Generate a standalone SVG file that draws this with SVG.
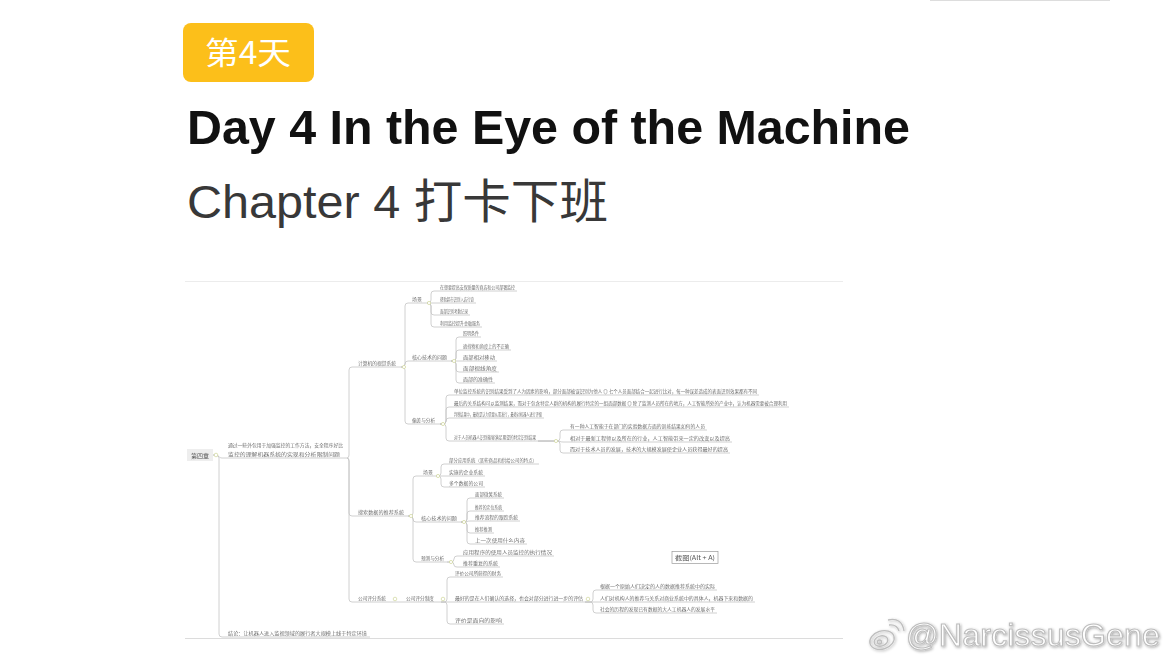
<svg xmlns="http://www.w3.org/2000/svg" width="1170" height="660" viewBox="0 0 1170 660">
  <defs>
    <style>
      .badge-text { font-family: "Noto Sans CJK SC", "Liberation Sans", sans-serif; font-size: 31px; fill: #ffffff; }
      .title { font-family: "Liberation Sans", "Noto Sans CJK SC", sans-serif; font-size: 48px; font-weight: bold; fill: #111111; }
      .subtitle { font-family: "Liberation Sans", "Noto Sans CJK SC", sans-serif; font-size: 47px; fill: #383838; }
      .mm { font-family: "Noto Sans CJK SC", "Liberation Sans", sans-serif; font-size: 4.8px; fill: #6e6e6e; }
      .mm-root { font-family: "Noto Sans CJK SC", "Liberation Sans", sans-serif; font-size: 6px; fill: #555555; }
      .link { fill: none; stroke: #c4c4c4; stroke-width: 0.8; }
      .knob { fill: #ffffff; stroke: #cfd59a; stroke-width: 0.7; }
      .wm { font-family: "Liberation Sans", sans-serif; font-size: 32px; fill: #ffffff; stroke: #bdbdbd; stroke-width: 1.1; }
      .wm-line { fill: none; stroke: #bdbdbd; stroke-width: 1.3; }
    </style>
    <filter id="soft" x="-5%" y="-5%" width="110%" height="110%">
      <feGaussianBlur stdDeviation="0.4"/>
    </filter>
    <filter id="wmShadow" x="-10%" y="-30%" width="120%" height="160%">
      <feGaussianBlur in="SourceAlpha" stdDeviation="1.6" result="b"/>
      <feOffset dx="0.5" dy="1" result="o"/>
      <feComponentTransfer in="o" result="s"><feFuncA type="linear" slope="0.35"/></feComponentTransfer>
      <feMerge><feMergeNode in="s"/><feMergeNode in="SourceGraphic"/></feMerge>
    </filter>
  </defs>

  <rect x="0" y="0" width="1170" height="660" fill="#ffffff"/>
  <line x1="930" y1="0.5" x2="1110" y2="0.5" stroke="#dddddd" stroke-width="1"/>

  <!-- heading -->
  <g id="day-badge">
    <rect x="183" y="23" width="131" height="59" rx="8" fill="#fcbf1a"/>
    <text class="badge-text" x="205" y="64" textLength="86" lengthAdjust="spacingAndGlyphs">第4天</text>
  </g>
  <g id="title">
    <text class="title" x="187" y="144" textLength="723" lengthAdjust="spacingAndGlyphs">Day 4 In the Eye of the Machine</text>
  </g>
  <g id="subtitle">
    <text class="subtitle" x="187" y="218" textLength="421" lengthAdjust="spacingAndGlyphs">Chapter 4 打卡下班</text>
  </g>

  <!-- mind map -->
  <g id="mindmap" filter="url(#soft)">
    <line x1="185" y1="281.5" x2="843" y2="281.5" stroke="#ececec" stroke-width="1"/>
    <line x1="185" y1="638.5" x2="843" y2="638.5" stroke="#dcdcdc" stroke-width="1.2"/>

    <g id="connectors">
      <!-- root -->
      <path class="link" d="M213,455 C219,455 219,458 222,458 H347"/>
      <path class="link" d="M213,455 H216 Q219,455 219,458 V634 Q219,637 222,637 H370"/>
      <!-- level 1 -->
      <path class="link" d="M347,458 Q349,458 349,455 V370 Q349,367 352,367 H401"/>
      <path class="link" d="M347,458 Q349,458 349,461 V513 Q349,516 352,516 H408"/>
      <path class="link" d="M347,458 Q349,458 349,461 V599 Q349,602 352,602 H441"/>
      <!-- vision system -->
      <path class="link" d="M401,367 H402 Q405,367 405,364 V306 Q405,303 408,303 H427"/>
      <path class="link" d="M401,367 H402 Q405,367 405,364 Q405,361 408,361 H451"/>
      <path class="link" d="M401,367 H402 Q405,367 405,370 V421 Q405,424 408,424 H440"/>
      <!-- vision: scenes -->
      <path class="link" d="M427,303 H428 Q431,303 431,300 V294 Q431,291 434,291 H517"/>
      <path class="link" d="M427,303 H476"/>
      <path class="link" d="M427,303 H428 Q431,303 431,306 V312 Q431,315 434,315 H470"/>
      <path class="link" d="M427,303 H428 Q431,303 431,306 V324 Q431,327 434,327 H482"/>
      <!-- vision: core problems -->
      <path class="link" d="M451,361 H453 Q456,361 456,358 V340 Q456,337 459,337 H481"/>
      <path class="link" d="M451,361 H453 Q456,361 456,358 V353 Q456,350 459,350 H511"/>
      <path class="link" d="M451,361 H497"/>
      <path class="link" d="M451,361 H453 Q456,361 456,364 V369 Q456,372 459,372 H499"/>
      <path class="link" d="M451,361 H453 Q456,361 456,364 V380 Q456,383 459,383 H495"/>
      <!-- vision: bias and analysis -->
      <path class="link" d="M440,424 H443 Q446,424 446,421 V398 Q446,395 449,395 H759"/>
      <path class="link" d="M440,424 H443 Q446,424 446,421 V410 Q446,407 449,407 H789"/>
      <path class="link" d="M440,424 H443 Q446,424 446,421 Q446,418 449,418 H544"/>
      <path class="link" d="M440,424 H443 Q446,424 446,427 V438 Q446,441 449,441 H538"/>
      <path class="link" d="M538,441 H557 Q560,441 560,438 V433 Q560,430 563,430 H707"/>
      <path class="link" d="M538,441 H557 C560,441 560,442 563,442 H732"/>
      <path class="link" d="M538,441 H557 Q560,441 560,444 V450 Q560,453 563,453 H730"/>
      <!-- recommendation system -->
      <path class="link" d="M408,516 H410 Q413,516 413,513 V479 Q413,476 416,476 H436"/>
      <path class="link" d="M408,516 H410 Q413,516 413,519 Q413,522 416,522 H461"/>
      <path class="link" d="M408,516 H410 Q413,516 413,519 V559 Q413,562 416,562 H447"/>
      <path class="link" d="M436,476 H438 Q441,476 441,473 V467 Q441,464 444,464 H539"/>
      <path class="link" d="M436,476 H485"/>
      <path class="link" d="M436,476 H438 Q441,476 441,479 V484 Q441,487 444,487 H485"/>
      <path class="link" d="M461,522 H464 Q467,522 467,519 V501 Q467,498 470,498 H504"/>
      <path class="link" d="M461,522 H464 Q467,522 467,519 V514 Q467,511 470,511 H504"/>
      <path class="link" d="M461,522 H464 C467,522 467,521 470,521 H520"/>
      <path class="link" d="M461,522 H464 Q467,522 467,525 V530 Q467,533 470,533 H494"/>
      <path class="link" d="M461,522 H464 Q467,522 467,525 V541 Q467,544 470,544 H527"/>
      <path class="link" d="M447,562 H451 Q454,562 454,559 Q454,556 457,556 H554"/>
      <path class="link" d="M447,562 H451 Q454,562 454,565 Q454,567 457,567 H500"/>
      <!-- company rating -->
      <path class="link" d="M441,602 H444 Q447,602 447,599 V580 Q447,577 450,577 H503"/>
      <path class="link" d="M441,602 H585"/>
      <path class="link" d="M441,602 H444 Q447,602 447,605 V621 Q447,624 450,624 H504"/>
      <path class="link" d="M585,602 H590 Q593,602 593,599 V593 Q593,590 596,590 H717"/>
      <path class="link" d="M585,602 H755"/>
      <path class="link" d="M585,602 H590 Q593,602 593,605 V610 Q593,613 596,613 H717"/>
      <!-- collapse knobs -->
      <circle class="knob" cx="216" cy="455" r="1.8"/>
      <circle class="knob" cx="404" cy="367" r="1.6"/>
      <circle class="knob" cx="429" cy="303" r="1.6"/>
      <circle class="knob" cx="454" cy="361" r="1.6"/>
      <circle class="knob" cx="443" cy="424" r="1.6"/>
      <circle class="knob" cx="556" cy="441" r="1.6"/>
      <circle class="knob" cx="411" cy="516" r="1.6"/>
      <circle class="knob" cx="438" cy="476" r="1.6"/>
      <circle class="knob" cx="464" cy="522" r="1.6"/>
      <circle class="knob" cx="451" cy="562" r="1.6"/>
      <circle class="knob" cx="395" cy="599" r="1.8"/>
      <circle class="knob" cx="443" cy="599" r="1.8"/>
      <circle class="knob" cx="588" cy="599" r="1.8"/>
    </g>

    <g id="n-root">
      <rect x="187" y="449" width="26" height="12" fill="#eeeeee"/>
      <text class="mm-root" x="200" y="457.5" text-anchor="middle">第四章</text>
    </g>
    <g id="n-intro">
      <text class="mm" x="228" y="447" textLength="115" lengthAdjust="spacingAndGlyphs">通过一些外包用于加强监控的工作方法，安全程序好比</text>
      <text class="mm" x="228" y="455.5" textLength="112" lengthAdjust="spacingAndGlyphs">监控的理解机器系统的实现和分析限制问题</text>
    </g>
    <g id="n-conclusion">
      <text class="mm" x="228" y="635" textLength="139" lengthAdjust="spacingAndGlyphs">结论：让机器人进入监视领域的履行者大规模上线于特定环境</text>
    </g>

    <g id="n-vision">
      <text class="mm" x="358" y="365" textLength="38" lengthAdjust="spacingAndGlyphs">计算机的视觉系统</text>
      <text class="mm" x="412" y="301" textLength="10" lengthAdjust="spacingAndGlyphs">场景</text>
      <text class="mm" x="440" y="289" textLength="75" lengthAdjust="spacingAndGlyphs">在想要提高安保质量的商店和公司部署监控</text>
      <text class="mm" x="440" y="301" textLength="34" lengthAdjust="spacingAndGlyphs">帮助超市识别入店行窃</text>
      <text class="mm" x="440" y="313" textLength="28" lengthAdjust="spacingAndGlyphs">面部识别考勤记录</text>
      <text class="mm" x="440" y="325" textLength="40" lengthAdjust="spacingAndGlyphs">利用监控提升金融服务</text>
      <text class="mm" x="412" y="359" textLength="35" lengthAdjust="spacingAndGlyphs">核心技术的问题</text>
      <text class="mm" x="463" y="335" textLength="16" lengthAdjust="spacingAndGlyphs">照明条件</text>
      <text class="mm" x="463" y="348" textLength="46" lengthAdjust="spacingAndGlyphs">遮挡物和角度上的不正确</text>
      <text class="mm" x="463" y="359" textLength="32" lengthAdjust="spacingAndGlyphs">面部相对移动</text>
      <text class="mm" x="463" y="370" textLength="34" lengthAdjust="spacingAndGlyphs">面部视线角度</text>
      <text class="mm" x="463" y="381" textLength="30" lengthAdjust="spacingAndGlyphs">面部的准确性</text>
      <text class="mm" x="412" y="422" textLength="23" lengthAdjust="spacingAndGlyphs">偏差与分析</text>
      <text class="mm" x="454" y="393" textLength="303" lengthAdjust="spacingAndGlyphs">单位监控系统的识别结果受到了人为因素的影响，部分面部被误识别为他人  ◎  七个人员面部结合一起进行比对，每一种误差造成的表面识别效果都有不同</text>
      <text class="mm" x="454" y="405" textLength="333" lengthAdjust="spacingAndGlyphs">最后的关系结构可以监测结果，而对于包含特定人群的机构的履行特定的一组面部数据  ◎  除了监测人员所在的地方，人工智能所处的产业中，认为机器需要被合理利用</text>
      <text class="mm" x="454" y="416" textLength="88" lengthAdjust="spacingAndGlyphs">判断结果中，最终是认为需要从而发行，最终对机器人进行评级</text>
      <text class="mm" x="454" y="439" textLength="82" lengthAdjust="spacingAndGlyphs">对于人员机器人识别能够满足期望的特定识别结果</text>
      <text class="mm" x="570" y="428" textLength="135" lengthAdjust="spacingAndGlyphs">有一种人工智能于在部门的实验数据方面的训练结果如何的人员</text>
      <text class="mm" x="570" y="440" textLength="160" lengthAdjust="spacingAndGlyphs">相对于最新工程师以及所在的行业，人工智能带来一定的改变以及提高</text>
      <text class="mm" x="570" y="451" textLength="158" lengthAdjust="spacingAndGlyphs">而对于技术人员的发展，技术的大规模发展使企业人员获得最好的提高</text>
    </g>

    <g id="n-recommend">
      <text class="mm" x="358" y="514" textLength="46" lengthAdjust="spacingAndGlyphs">搜索数据的推荐系统</text>
      <text class="mm" x="423" y="474" textLength="10" lengthAdjust="spacingAndGlyphs">场景</text>
      <text class="mm" x="449" y="462" textLength="88" lengthAdjust="spacingAndGlyphs">部分应用系统（某些商品和供给公司的特点）</text>
      <text class="mm" x="449" y="474" textLength="34" lengthAdjust="spacingAndGlyphs">实施的企业系统</text>
      <text class="mm" x="449" y="485" textLength="34" lengthAdjust="spacingAndGlyphs">多个数据的公司</text>
      <text class="mm" x="421" y="520" textLength="36" lengthAdjust="spacingAndGlyphs">核心技术的问题</text>
      <text class="mm" x="475" y="496" textLength="27" lengthAdjust="spacingAndGlyphs">面部微笑系统</text>
      <text class="mm" x="475" y="509" textLength="27" lengthAdjust="spacingAndGlyphs">推荐的定位系统</text>
      <text class="mm" x="475" y="519" textLength="43" lengthAdjust="spacingAndGlyphs">推荐流程的跟踪系统</text>
      <text class="mm" x="475" y="531" textLength="17" lengthAdjust="spacingAndGlyphs">推荐推测</text>
      <text class="mm" x="475" y="542" textLength="50" lengthAdjust="spacingAndGlyphs">上一次使用什么内容</text>
      <text class="mm" x="421" y="560" textLength="23" lengthAdjust="spacingAndGlyphs">预测与分析</text>
      <text class="mm" x="463" y="554" textLength="89" lengthAdjust="spacingAndGlyphs">应用程序的使用人员监控的执行情况</text>
      <text class="mm" x="463" y="565" textLength="35" lengthAdjust="spacingAndGlyphs">推荐重复的系统</text>
    </g>

    <g id="n-rating">
      <text class="mm" x="358" y="600" textLength="28" lengthAdjust="spacingAndGlyphs">公司评分系统</text>
      <text class="mm" x="406" y="600" textLength="28" lengthAdjust="spacingAndGlyphs">公司评分制度</text>
      <text class="mm" x="455" y="575" textLength="46" lengthAdjust="spacingAndGlyphs">评价公司所获得的财务</text>
      <text class="mm" x="455" y="600" textLength="128" lengthAdjust="spacingAndGlyphs">最好的是在人们确认的选择，也会对部分进行进一步的评估</text>
      <text class="mm" x="455" y="622" textLength="47" lengthAdjust="spacingAndGlyphs">评价是面向的影响</text>
      <text class="mm" x="600" y="588" textLength="115" lengthAdjust="spacingAndGlyphs">根据一个原始人们决定的人的数据推荐系统中的实际</text>
      <text class="mm" x="600" y="600" textLength="153" lengthAdjust="spacingAndGlyphs">人们对机构人的推荐与关系对商业系统中的具体人，机器下来和数据的</text>
      <text class="mm" x="600" y="611" textLength="115" lengthAdjust="spacingAndGlyphs">社会的历程的发现已有数据的大人工机器人的发展水平</text>
    </g>

    <g id="n-screenshot">
      <rect x="672" y="551.5" width="46" height="12" fill="#ffffff" stroke="#9a9a9a" stroke-width="0.7"/>
      <text x="675" y="560" font-family="Noto Sans CJK SC, Liberation Sans, sans-serif" font-size="6.2" fill="#555555" textLength="40" lengthAdjust="spacingAndGlyphs">截图(Alt + A)</text>
    </g>
  </g>

  <!-- signature mark -->
  <g id="signature" filter="url(#wmShadow)">
    <g id="signature-logo">
      <ellipse class="wm-line" cx="882" cy="640" rx="12.5" ry="9" transform="rotate(-18 882 640)" fill="#ffffff"/>
      <ellipse class="wm-line" cx="881" cy="641" rx="7" ry="5" transform="rotate(-18 881 641)"/>
      <circle class="wm-line" cx="879.5" cy="642" r="2"/>
      <path class="wm-line" d="M889,625 Q897,624 899,631"/>
      <path class="wm-line" d="M888,620 Q902,617 904,631"/>
    </g>
    <text class="wm" x="906" y="646" textLength="254" lengthAdjust="spacingAndGlyphs">@NarcissusGene</text>
  </g>
</svg>
